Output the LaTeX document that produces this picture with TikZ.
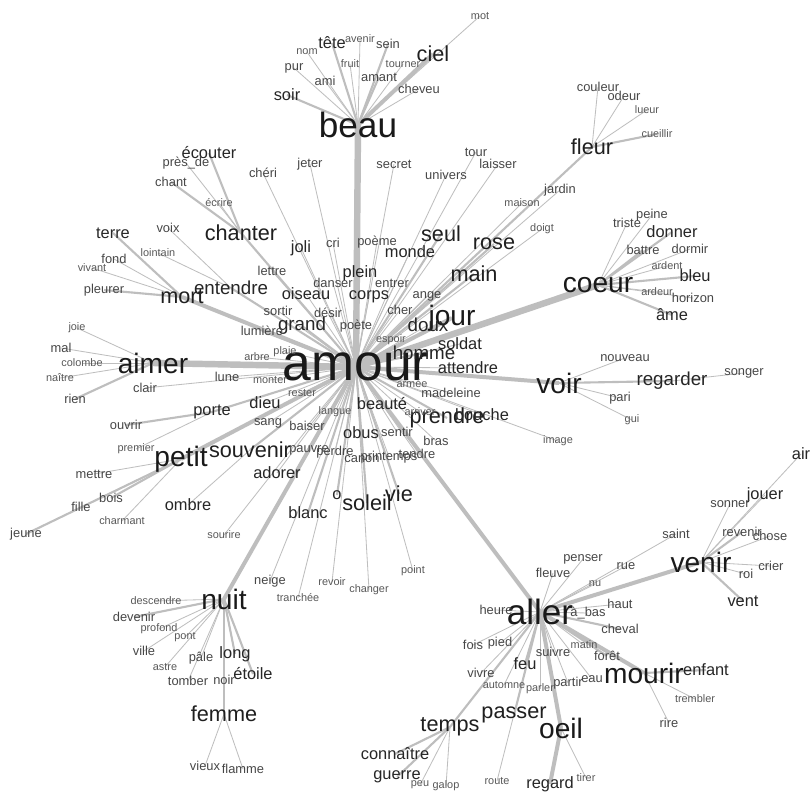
\documentclass[tikz,border=0pt]{standalone}
\usepackage{fontspec}
\setmainfont{Liberation Sans}
\usetikzlibrary{backgrounds}

\definecolor{edgegray}{RGB}{190,190,190}

\tikzset{
  word/.style={inner sep=0pt, text=black!70},
  fA/.style={word, font=\fontsize{44}{44}\selectfont, text=black!90},
  fB/.style={word, font=\fontsize{30}{30}\selectfont, text=black!90},
  fC/.style={word, font=\fontsize{24}{24}\selectfont, text=black!90},
  fD/.style={word, font=\fontsize{18.5}{18.5}\selectfont, text=black!88},
  fDD/.style={word, font=\fontsize{16}{16}\selectfont, text=black!85},
  fE/.style={word, font=\fontsize{14}{14}\selectfont, text=black!85},
  fF/.style={word, font=\fontsize{11}{11}\selectfont, text=black!72},
  fG/.style={word, font=\fontsize{9.3}{9.3}\selectfont, text=black!65},
  tie/.style={draw=edgegray, line width=0.7pt},
  strand/.style={draw=edgegray, line width=1.8pt},
  band/.style={draw=edgegray, line width=3.4pt},
  trunk/.style={draw=edgegray, line width=5.5pt}
}

\begin{document}
\begin{tikzpicture}[x=0.03cm, y=-0.03cm]
  \useasboundingbox (0,0) rectangle (810,793);

  % words, biggest first
  \node[fA] (amour) at (356,367) {amour};
  \foreach \n/\lab/\x/\y in {beau/beau/358/125, aller/aller/540/612}
    \node[fB] (\n) at (\x,\y) {\lab};
  \foreach \n/\lab/\x/\y in {aimer/aimer/153/363, coeur/coeur/598/285,
      nuit/nuit/224/599, venir/venir/701/562, mourir/mourir/644/673,
      petit/petit/181/459, jour/jour/452/318, voir/voir/559/383,
      oeil/oeil/561/728}
    \node[fC] (\n) at (\x,\y) {\lab};
  \foreach \n/\lab/\x/\y in {mort/mort/182/297, rose/rose/494/244,
      chanter/chanter/241/233, passer/passer/514/715, fleur/fleur/592/147,
      main/main/474/274, ciel/ciel/433/54, soleil/soleil/367/503,
      vie/vie/399/494, souvenir/souvenir/250/450, seul/seul/441/234,
      femme/femme/224/714, temps/temps/450/727, prendre/prendre/447/418}
    \node[fD] (\n) at (\x,\y) {\lab};
  \foreach \n/\lab/\x/\y in {grand/grand/302/326, regarder/regarder/672/381,
      homme/homme/424/353, entendre/entendre/231/288, doux/doux/428/325}
    \node[fDD] (\n) at (\x,\y) {\lab};
  \foreach \n/\lab/\x/\y in {ecouter/écouter/209/153, tete/tête/332/43,
      soir/soir/287/95, terre/terre/113/233, joli/joli/301/248,
      monde/monde/410/252, plein/plein/360/273, corps/corps/369/297,
      oiseau/oiseau/306/294, soldat/soldat/460/344,
      attendre/attendre/468/368, beaute/beauté/382/404, obus/obus/361/433,
      porte/porte/212/412, adorer/adorer/277/473, blanc/blanc/308/513,
      ombre/ombre/188/505, long/long/235/654, etoile/étoile/253/674,
      connaitre/connaître/395/754, guerre/guerre/397/777, feu/feu/525/664,
      enfant/enfant/706/670, bleu/bleu/695/276, ame/âme/672/315,
      regard/regard/550/784, vent/vent/743/601, bouche/bouche/482/415,
      o/o/337/495, air/air/801/454, donner/donner/672/232,
      dieu/dieu/265/403, jouer/jouer/765/495}
    \node[fE] (\n) at (\x,\y) {\lab};
  \foreach \n/\lab/\x/\y in {sein/sein/388/44, amant/amant/379/77,
      cheveu/cheveu/419/89, jeter/jeter/310/164, secret/secret/394/164,
      tour/tour/476/152, laisser/laisser/498/164, univers/univers/446/175,
      cheri/chéri/263/173, presde/près\_de/186/163, chant/chant/171/182,
      couleur/couleur/598/87, odeur/odeur/624/96, jardin/jardin/560/190,
      triste/triste/627/223, peine/peine/652/215, battre/battre/643/250,
      dormir/dormir/690/249, horizon/horizon/693/298,
      nouveau/nouveau/625/358, songer/songer/744/373, pari/pari/620/398,
      mal/mal/61/348, rien/rien/75/399, clair/clair/145/388,
      lune/lune/227/377, lettre/lettre/272/271, sortir/sortir/278/311,
      sang/sang/268/423, baiser/baiser/307/426, pauvre/pauvre/309/450,
      perdre/perdre/335/452, canon/canon/362/459,
      printemps/printemps/389/457, tendre/tendre/417/454,
      sentir/sentir/397/432, bras/bras/436/441, cher/cher/400/310,
      ange/ange/427/296, entrer/entrer/392/283, danser/danser/333/283,
      desir/désir/328/313, poeme/poème/377/242, poete/poète/356/326,
      cri/cri/333/243, fond/fond/114/259, ouvrir/ouvrir/126/425,
      bois/bois/111/498, fille/fille/81/507, jeune/jeune/26/534,
      neige/neige/270/581, ville/ville/144/651, pale/pâle/201/658,
      tomber/tomber/188/681, noir/noir/224/680, vieux/vieux/205/766,
      flamme/flamme/243/769, devenir/devenir/134/617,
      penser/penser/583/559, rue/rue/626/566, haut/haut/620/604,
      fois/fois/473/645, pied/pied/500/643, vivre/vivre/481/673,
      partir/partir/568/683, eau/eau/592/679, suivre/suivre/553/652,
      rire/rire/669/723, fleuve/fleuve/553/573, saint/saint/676/534,
      sonner/sonner/730/504, chose/chose/770/536, crier/crier/771/566,
      roi/roi/746/574, revenir/revenir/742/532, abas/à\_bas/588/613,
      cheval/cheval/620/629, foret/forêt/607/656,
      lumiere/lumière/262/331, pleurer/pleurer/104/290,
      voix/voix/168/228, mettre/mettre/94/474, pur/pur/294/68,
      ami/ami/325/81, heure/heure/496/610, madeleine/madeleine/451/393}
    \node[fF] (\n) at (\x,\y) {\lab};
  \foreach \n/\lab/\x/\y in {mot/mot/480/16, nom/nom/307/52,
      avenir/avenir/360/39, fruit/fruit/350/64, tourner/tourner/403/64,
      ecrire/écrire/219/203, lueur/lueur/647/110, cueillir/cueillir/657/134,
      maison/maison/522/203, doigt/doigt/542/229, ardent/ardent/667/266,
      ardeur/ardeur/657/292, gui/gui/632/420, image/image/558/441,
      joie/joie/77/328, colombe/colombe/82/363, naitre/naître/60/378,
      arbre/arbre/257/357, monter/monter/270/380, plaie/plaie/285/352,
      rester/rester/302/393, langue/langue/335/412, espoir/espoir/391/340,
      armee/armée/412/384, arriver/arriver/420/412,
      lointain/lointain/158/253, vivant/vivant/92/268,
      premier/premier/136/449, charmant/charmant/122/521,
      sourire/sourire/224/535, tranchee/tranchée/298/598,
      revoir/revoir/332/582, changer/changer/369/590, point/point/413/571,
      descendre/descendre/156/601, profond/profond/159/629,
      pont/pont/185/637, astre/astre/165/667, automne/automne/504/685,
      parler/parler/540/689, matin/matin/584/645,
      trembler/trembler/695/699, tirer/tirer/586/778, route/route/497/781,
      peu/peu/420/785, galop/galop/446/786, nu/nu/595/584}
    \node[fG] (\n) at (\x,\y) {\lab};

  % links under the words
  \begin{scope}[on background layer]
    \fill[white] (0,0) rectangle (810,793);
    \foreach \a/\b in {amour/beau, amour/aimer, amour/coeur}
      \draw[trunk] (\a.center) -- (\b.center);
    \foreach \a/\b in {amour/voir, amour/aller, aller/venir, amour/nuit,
        amour/petit, amour/mort, aller/mourir, aller/oeil, oeil/regard,
        beau/ciel, amour/jour}
      \draw[band] (\a.center) -- (\b.center);
    \foreach \a/\b in {amour/chanter, amour/fleur, amour/rose, amour/main,
        amour/souvenir, amour/soleil, amour/o, amour/vie, amour/blanc,
        amour/porte, porte/ouvrir, mort/pleurer, mort/terre, aimer/rien,
        voir/regarder, petit/bois, petit/jeune, coeur/battre, coeur/bleu,
        coeur/ame, coeur/donner, fleur/cueillir, venir/vent, venir/revenir,
        mourir/enfant, aller/passer, aller/temps, aller/feu,
        temps/connaitre, temps/guerre, nuit/femme, nuit/etoile, nuit/long,
        nuit/devenir, chanter/ecouter, chanter/chant, beau/soir, beau/tete,
        beau/amant, beau/sein, amour/grand, amour/homme, amour/prendre,
        amour/entendre, aller/cheval, aller/foret, amour/lumiere, amour/seul}
      \draw[strand] (\a.center) -- (\b.center);
    \foreach \a/\b in {beau/mot, beau/nom, beau/avenir, beau/pur,
        beau/fruit, beau/tourner, beau/ami, beau/cheveu, fleur/couleur,
        fleur/odeur, fleur/lueur, coeur/triste, coeur/peine, coeur/dormir,
        coeur/ardent, coeur/ardeur, coeur/horizon, voir/nouveau, voir/pari,
        voir/gui, regarder/songer, chanter/presde, chanter/ecrire, mort/fond,
        mort/vivant, entendre/voix, entendre/lointain, aimer/joie, aimer/mal,
        aimer/colombe, aimer/naitre, amour/clair, porte/premier,
        petit/mettre, petit/fille, petit/charmant, souvenir/ombre,
        nuit/descendre, nuit/profond, nuit/pont, nuit/ville, nuit/astre,
        nuit/pale, nuit/tomber, nuit/noir, femme/vieux, femme/flamme,
        aller/heure, aller/fois, aller/pied, aller/vivre, aller/automne,
        aller/parler, aller/partir, aller/eau, aller/suivre, aller/matin,
        aller/abas, aller/haut, aller/route, aller/fleuve, aller/nu,
        aller/penser, aller/rue, aller/saint, venir/sonner, venir/jouer,
        venir/air, venir/chose, venir/crier, venir/roi, mourir/trembler,
        mourir/rire, oeil/tirer, temps/peu, temps/galop}
      \draw[tie] (\a.center) -- (\b.center);
    \foreach \b in {cheri, jeter, cri, poeme, secret, univers, tour,
        laisser, maison, jardin, doigt, joli, monde, plein, danser, entrer,
        corps, ange, cher, sortir, desir, poete, espoir, lettre, oiseau,
        arbre, plaie, lune, monter, rester, dieu, sang, baiser, langue,
        beaute, obus, sentir, bras, pauvre, perdre, canon, printemps, tendre,
        arriver, bouche, armee, image, neige, tranchee, revoir, changer,
        point, soldat, doux, madeleine, attendre, adorer, sourire}
      \draw[tie] (amour.center) -- (\b.center);
  \end{scope}
\end{tikzpicture}
\end{document}
